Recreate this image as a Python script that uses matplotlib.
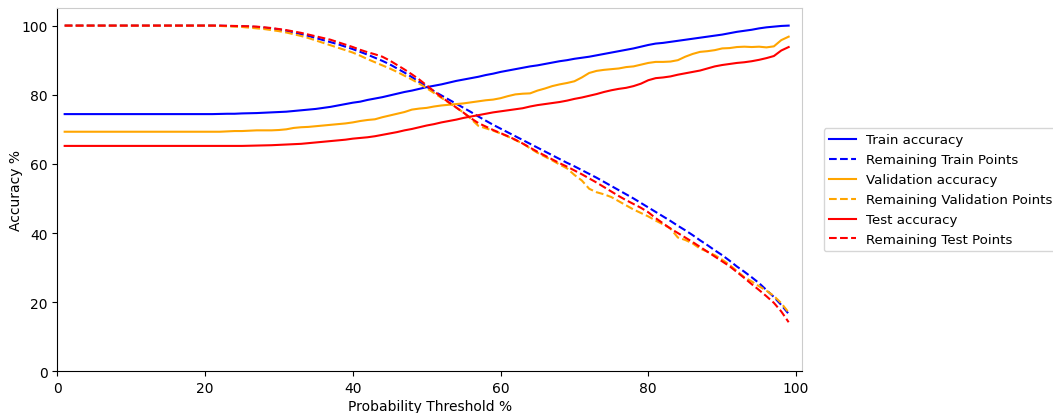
import numpy as np
import matplotlib
matplotlib.use("Agg")
import matplotlib.pyplot as plt

thresholds = list(range(1, 100))

train_acc = [74.4] * 21 + [
    74.45, 74.5, 74.5, 74.6, 74.65, 74.7, 74.8, 74.9, 75.0,
    75.1, 75.3, 75.5, 75.7, 75.9, 76.2, 76.5, 76.9, 77.3, 77.7,
    78.0, 78.5, 78.9, 79.3, 79.8, 80.3, 80.8, 81.2, 81.7, 82.2,
    82.6, 83.0, 83.5, 84.0, 84.4, 84.8, 85.2, 85.7, 86.1, 86.6,
    87.0, 87.4, 87.8, 88.2, 88.5, 88.9, 89.3, 89.7, 90.0, 90.4,
    90.7, 91.0, 91.4, 91.8, 92.2, 92.6, 93.0, 93.4, 93.9, 94.4,
    94.8, 95.0, 95.3, 95.6, 95.9, 96.2, 96.5, 96.8, 97.1, 97.4,
    97.8, 98.2, 98.5, 98.8, 99.2, 99.5, 99.7, 99.9, 100.0]

train_remaining = [100.0] * 21 + [
    99.95, 99.9, 99.85, 99.8, 99.7, 99.6, 99.4, 99.2, 98.9,
    98.5, 98.0, 97.5, 97.0, 96.4, 95.8, 95.2, 94.6, 93.9, 93.2,
    92.4, 91.6, 90.7, 89.8, 88.8, 87.6, 86.4, 85.1, 83.7, 82.3,
    81.0, 79.8, 78.6, 77.4, 76.2, 75.0, 73.7, 72.5, 71.3, 70.2,
    69.1, 68.0, 66.9, 65.8, 64.7, 63.6, 62.5, 61.4, 60.3, 59.3,
    58.2, 57.1, 56.0, 54.8, 53.6, 52.4, 51.2, 50.0, 48.7, 47.4,
    46.1, 44.8, 43.5, 42.1, 40.8, 39.4, 37.9, 36.5, 35.0, 33.6,
    32.0, 30.3, 28.8, 27.2, 25.5, 23.5, 21.5, 19.2, 16.6]

val_acc = [69.3] * 22 + [
    69.4, 69.5, 69.5, 69.6, 69.7, 69.7, 69.7, 69.8,
    70.0, 70.4, 70.6, 70.7, 70.9, 71.1, 71.3, 71.5, 71.7, 72.0,
    72.4, 72.7, 72.9, 73.5, 74.0, 74.5, 75.0, 75.7, 76.0, 76.2,
    76.6, 76.9, 77.1, 77.3, 77.5, 77.8, 78.1, 78.4, 78.6, 79.0,
    79.6, 80.1, 80.3, 80.4, 81.2, 81.8, 82.5, 83.0, 83.4, 83.9,
    85.0, 86.3, 86.9, 87.2, 87.4, 87.6, 88.0, 88.2, 88.7, 89.2,
    89.5, 89.5, 89.6, 90.0, 91.0, 91.8, 92.4, 92.6, 92.9, 93.4,
    93.5, 93.8, 93.9, 93.8, 93.9, 93.7, 94.0, 95.8, 96.8]

val_remaining = [100.0] * 21 + [
    99.9, 99.8, 99.7, 99.6, 99.4, 99.2, 99.0, 98.7, 98.4,
    98.0, 97.5, 97.0, 96.4, 95.7, 95.0, 94.3, 93.6, 92.9, 92.2,
    91.3, 90.3, 89.4, 88.5, 87.6, 86.6, 85.5, 84.4, 83.2, 81.9,
    80.5, 79.1, 77.7, 76.3, 74.8, 73.0, 71.0, 70.3, 69.6, 68.8,
    67.9, 66.9, 65.9, 64.5, 63.2, 62.1, 61.0, 59.8, 58.7, 56.8,
    55.2, 52.8, 51.8, 51.2, 50.4, 49.2, 48.0, 46.8, 45.8, 44.8,
    43.6, 42.5, 41.3, 38.7, 38.0, 37.0, 35.5, 34.6, 33.6, 32.3,
    30.8, 29.0, 27.2, 26.0, 24.6, 23.3, 21.8, 19.7, 17.0]

test_acc = [65.2] * 25 + [
    65.25, 65.3, 65.35, 65.4, 65.5,
    65.6, 65.7, 65.8, 66.0, 66.2, 66.4, 66.6, 66.8, 67.0, 67.3,
    67.5, 67.7, 68.0, 68.4, 68.8, 69.2, 69.7, 70.1, 70.6, 71.1,
    71.5, 72.0, 72.4, 72.8, 73.3, 73.7, 74.1, 74.5, 74.9, 75.2,
    75.5, 75.8, 76.1, 76.6, 77.0, 77.3, 77.6, 77.9, 78.3, 78.8,
    79.2, 79.7, 80.2, 80.8, 81.3, 81.7, 82.0, 82.5, 83.2, 84.2,
    84.8, 85.0, 85.3, 85.8, 86.2, 86.6, 87.0, 87.6, 88.2, 88.6,
    88.9, 89.2, 89.4, 89.7, 90.1, 90.6, 91.2, 92.8, 93.8]

test_remaining = [100.0] * 22 + [
    99.95, 99.9, 99.85, 99.8, 99.7, 99.5, 99.3, 99.0,
    98.7, 98.3, 97.9, 97.4, 96.9, 96.4, 95.9, 95.2, 94.5, 93.8,
    93.0, 92.3, 91.7, 91.0, 89.9, 88.6, 87.3, 85.9, 84.4, 82.7,
    81.0, 79.3, 77.8, 76.3, 74.8, 73.2, 71.8, 70.8, 69.8, 68.9,
    68.0, 67.0, 65.9, 64.7, 63.5, 62.4, 61.3, 60.2, 59.2, 58.1,
    57.0, 55.8, 54.6, 53.3, 52.0, 50.7, 49.5, 48.4, 47.3, 46.0,
    44.3, 42.8, 41.3, 40.0, 38.7, 37.4, 36.0, 34.6, 33.2, 31.8,
    30.4, 28.7, 27.0, 25.2, 23.5, 21.7, 19.8, 17.3, 14.2]

fig = plt.figure(figsize=(10.53, 4.14), dpi=100)
ax = fig.add_axes([0.0544, 0.1007, 0.7072, 0.8768])

ax.plot(thresholds, train_acc, color="blue", lw=1.5, label="Train accuracy")
ax.plot(thresholds, train_remaining, color="blue", lw=1.5, ls="--",
        label="Remaining Train Points")
ax.plot(thresholds, val_acc, color="orange", lw=1.5, label="Validation accuracy")
ax.plot(thresholds, val_remaining, color="orange", lw=1.5, ls="--",
        label="Remaining Validation Points")
ax.plot(thresholds, test_acc, color="red", lw=1.5, label="Test accuracy")
ax.plot(thresholds, test_remaining, color="red", lw=1.5, ls="--",
        label="Remaining Test Points")

ax.set_xlim(0, 100.8)
ax.set_ylim(0, 105.0)
ax.set_xlabel("Probability Threshold %", labelpad=2.5)
ax.set_ylabel("Accuracy %", labelpad=-1)

for side in ("top", "right"):
    ax.spines[side].set_color("#cccccc")

ax.legend(loc="center left", bbox_to_anchor=(1.02, 0.5), frameon=True,
          fontsize=9.6, handlelength=2.0, labelspacing=0.52)

fig.savefig("out.png", dpi=100)
